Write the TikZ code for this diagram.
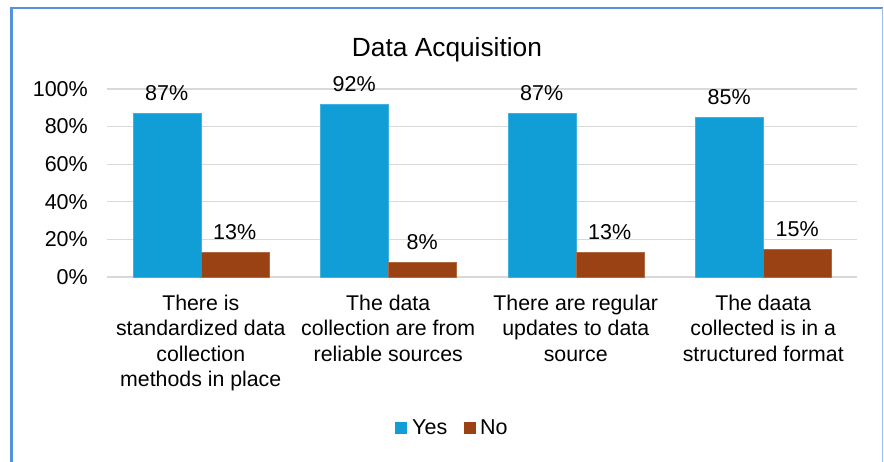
\documentclass[tikz,border=0pt]{standalone}
\usepackage{fontspec}
\setmainfont{Liberation Sans}
\definecolor{yescol}{RGB}{17,158,214}
\definecolor{nocol}{RGB}{154,66,19}
\definecolor{gridcol}{RGB}{217,217,217}
\definecolor{framecol}{RGB}{84,147,220}
\begin{document}
\begin{tikzpicture}[x=1pt,y=-1pt,
  gridline/.style={draw=gridcol,line width=1.2pt},
  yesbar/.style={fill=yescol,draw=yescol!80!white,line width=0.4pt},
  nobar/.style={fill=nocol,draw=nocol!80!white,line width=0.4pt},
  ticklabel/.style={font=\fontsize{21.5}{25}\selectfont,anchor=east,inner sep=0pt},
  vallabel/.style={font=\fontsize{21.5}{25}\selectfont,anchor=base,inner sep=0pt},
  catlabel/.style={font=\fontsize{21.3}{25.3}\selectfont,anchor=north,align=center,inner sep=0pt},
  legtext/.style={font=\fontsize{21.5}{25}\selectfont,anchor=base west,inner sep=0pt}]
\useasboundingbox (0,0) rectangle (884,462);
\fill[white] (0,0) rectangle (884,462);
% frame
\draw[framecol,line width=2.6pt] (11.5,462) -- (11.5,8) -- (883,8);
\draw[framecol!60!white,line width=1pt] (882.5,8) -- (882.5,462);
% title
\node[font=\fontsize{26.3}{30}\selectfont,anchor=base,inner sep=0pt] (title) at (447,57) {Data Acquisition};
% grid and tick labels
\foreach \k in {0,...,5}{
  \pgfmathsetmacro{\yy}{277-\k*37.6}
  \draw[gridline] (107,\yy) -- (857,\yy);
  \pgfmathtruncatemacro{\pc}{\k*20}
  \node[ticklabel] (tick\k) at (88,\yy) {\pc\%};
}
% bars
\foreach \i/\y/\n in {0/87/13,1/92/8,2/87/13,3/85/15}{
  \pgfmathsetmacro{\c}{107+187.5*(\i+0.5)}
  \pgfmathsetmacro{\ty}{277-1.88*\y}
  \pgfmathsetmacro{\tn}{277-1.88*\n}
  \path[yesbar] (\c-68,277) rectangle (\c,\ty);
  \path[nobar] (\c,277) rectangle (\c+68,\tn);
  \node[vallabel] (vy\i) at (\c-34,\ty-12.7) {\y\%};
  \node[vallabel] (vn\i) at (\c+34,\tn-12.7) {\n\%};
}
% category labels
\node[catlabel] (cat0) at (200.75,295) {There is\\standardized data\\collection\\methods in place};
\node[catlabel] (cat1) at (388.25,295) {The data\\collection are from\\reliable sources};
\node[catlabel] (cat2) at (575.75,295) {There are regular\\updates to data\\source};
\node[catlabel] (cat3) at (763.25,295) {The daata\\collected is in a\\structured format};
% legend
\fill[yescol] (395,422) rectangle (407,434);
\node[legtext] (lyes) at (412,434) {Yes};
\fill[nocol] (464,422) rectangle (476,434);
\node[legtext] (lno) at (480,434) {No};
\end{tikzpicture}
\end{document}
